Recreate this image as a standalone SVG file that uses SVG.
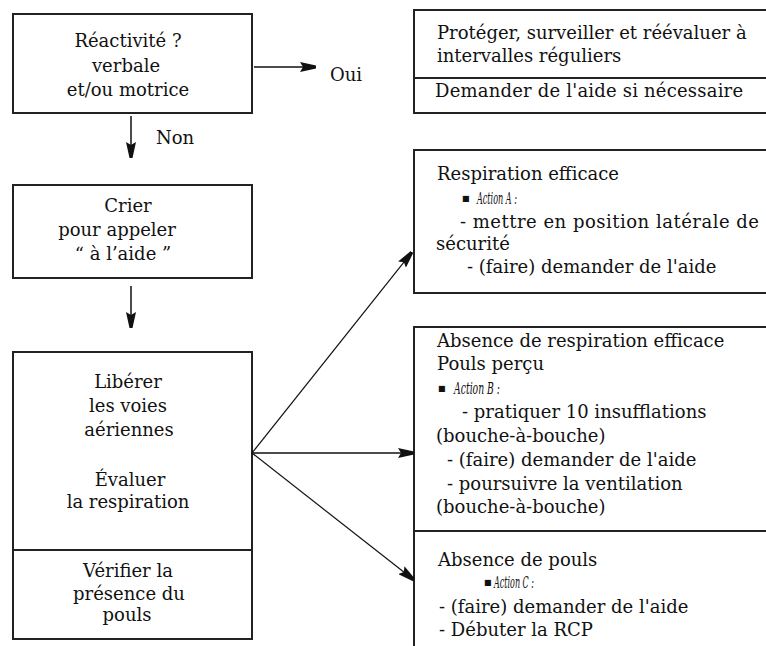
<svg xmlns="http://www.w3.org/2000/svg" width="766" height="646" viewBox="0 0 766 646">
<style>
.box{fill:#fff;stroke:#222;stroke-width:2}
.div{stroke:#222;stroke-width:2}
text{font-family:"DejaVu Serif","Liberation Serif",serif;font-size:18px;fill:#111}
.c{text-anchor:middle}
.it{font-style:italic;font-size:17px}
.bul{font-size:8px}
.con{stroke:#111;stroke-width:1.5;fill:none;marker-end:url(#ah)}
.thin{stroke-width:1.2}
</style>
<defs>
<marker id="ah" viewBox="0 0 16 10" refX="16" refY="5" markerWidth="16" markerHeight="10" markerUnits="userSpaceOnUse" orient="auto">
<path d="M0,0 L16,3.5 L16,6.5 L0,10 L3,5 z" fill="#111"/>
</marker>
</defs>
<rect width="766" height="646" fill="#fff"/>

<g id="reactivite">
<rect class="box" x="13" y="14" width="239" height="99"/>
<text class="c" x="128" y="47">Réactivité ?</text>
<text class="c" x="126" y="72">verbale</text>
<text class="c" x="128" y="96">et/ou motrice</text>
</g>

<g id="crier">
<rect class="box" x="13" y="185" width="239" height="93"/>
<text class="c" x="128" y="212">Crier</text>
<text class="c" x="117" y="236">pour appeler</text>
<text class="c" x="123" y="260">“ à l’aide ”</text>
</g>

<g id="liberer">
<rect class="box" x="13" y="352" width="239" height="287"/>
<line class="div" x1="13" y1="550" x2="252" y2="550"/>
<text class="c" x="128" y="388">Libérer</text>
<text class="c" x="128" y="412">les voies</text>
<text class="c" x="129" y="436">aériennes</text>
<text class="c" x="130" y="486">Évaluer</text>
<text class="c" x="128" y="508">la respiration</text>
<text class="c" x="128" y="577">Vérifier la</text>
<text class="c" x="129" y="600">présence du</text>
<text class="c" x="127" y="621">pouls</text>
</g>

<g id="oui-label"><text x="330" y="81">Oui</text></g>
<g id="non-label"><text x="156" y="144">Non</text></g>

<g id="proteger">
<rect class="box" x="414" y="10" width="370" height="103"/>
<line class="div" x1="414" y1="78" x2="784" y2="78"/>
<text x="437" y="39">Protéger, surveiller et réévaluer à</text>
<text x="437" y="62">intervalles réguliers</text>
<text x="435" y="97" letter-spacing="0.2">Demander de l'aide si nécessaire</text>
</g>

<g id="respiration-efficace">
<rect class="box" x="414" y="150" width="370" height="143"/>
<text x="437" y="180">Respiration efficace</text>
<text class="bul" x="462" y="201">■</text>
<text class="it" x="477" y="204" textLength="40" lengthAdjust="spacingAndGlyphs">Action A :</text>
<text x="460" y="228" letter-spacing="0.5">- mettre en position latérale de</text>
<text x="436" y="250">sécurité</text>
<text x="467" y="273">- (faire) demander de l'aide</text>
</g>

<g id="absence-respiration">
<rect class="box" x="414" y="327" width="370" height="340"/>
<line class="div" x1="414" y1="531" x2="784" y2="531"/>
<text x="437" y="347">Absence de respiration efficace</text>
<text x="437" y="370">Pouls perçu</text>
<text class="bul" x="438" y="391">■</text>
<text class="it" x="454" y="394" textLength="46" lengthAdjust="spacingAndGlyphs">Action B :</text>
<text x="462" y="418">- pratiquer 10 insufflations</text>
<text x="436" y="442">(bouche-à-bouche)</text>
<text x="447" y="466">- (faire) demander de l'aide</text>
<text x="447" y="490">- poursuivre la ventilation</text>
<text x="436" y="513">(bouche-à-bouche)</text>
</g>

<g id="absence-pouls">
<text x="438" y="566">Absence de pouls</text>
<text class="bul" x="484" y="585">■</text>
<text class="it" x="494" y="588" textLength="40" lengthAdjust="spacingAndGlyphs">Action C :</text>
<text x="439" y="613">- (faire) demander de l'aide</text>
<text x="439" y="636">- Débuter la RCP</text>
</g>

<g id="connectors">
<line class="con" x1="254" y1="67" x2="316" y2="67"/>
<line class="con" x1="131" y1="116" x2="131" y2="158"/>
<line class="con" x1="131" y1="286" x2="131" y2="328"/>
<line class="con thin" x1="252" y1="453" x2="412" y2="252"/>
<line class="con" x1="252" y1="453" x2="414" y2="453"/>
<line class="con thin" x1="252" y1="453" x2="414" y2="580"/>
</g>
</svg>
